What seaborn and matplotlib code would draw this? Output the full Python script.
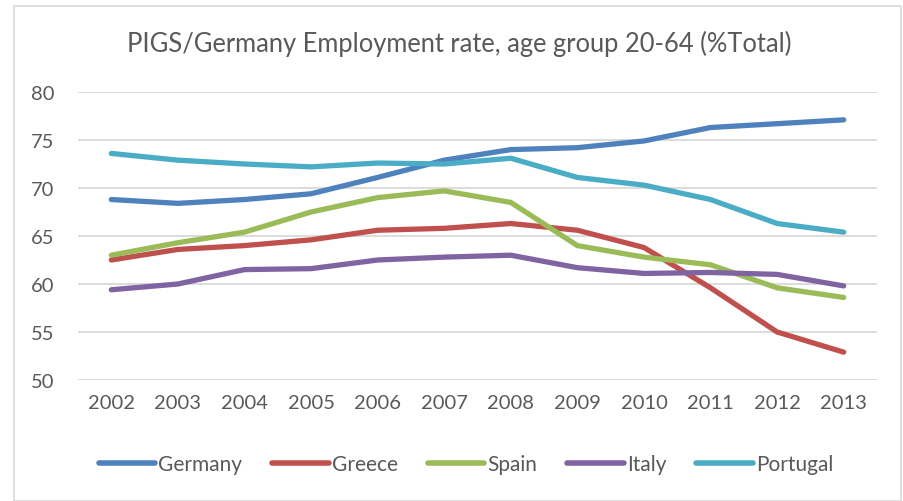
import matplotlib
matplotlib.use("Agg")
import matplotlib.pyplot as plt
import seaborn as sns
import pandas as pd
from matplotlib.patches import Rectangle

years = [2002, 2003, 2004, 2005, 2006, 2007, 2008, 2009, 2010, 2011, 2012, 2013]
germany = [68.8, 68.4, 68.8, 69.4, 71.1, 72.9, 74.0, 74.2, 74.9, 76.3, 76.7, 77.1]
greece = [62.5, 63.6, 64.0, 64.6, 65.6, 65.8, 66.3, 65.6, 63.8, 59.6, 55.0, 52.9]
spain = [63.0, 64.3, 65.4, 67.5, 69.0, 69.7, 68.5, 64.0, 62.8, 62.0, 59.6, 58.6]
italy = [59.4, 60.0, 61.5, 61.6, 62.5, 62.8, 63.0, 61.7, 61.1, 61.2, 61.0, 59.8]
portugal = [73.6, 72.9, 72.5, 72.2, 72.6, 72.5, 73.1, 71.1, 70.3, 68.8, 66.3, 65.4]

series = {"Germany": germany, "Greece": greece, "Spain": spain,
          "Italy": italy, "Portugal": portugal}
colors = {"Germany": "#4F81BD", "Greece": "#C0504D", "Spain": "#9BBB59",
          "Italy": "#8064A2", "Portugal": "#4BACC6"}

rows = []
for name, vals in series.items():
    for y, v in zip(years, vals):
        rows.append({"Year": y, "Value": v, "Country": name})
df = pd.DataFrame(rows)

sns.set_theme(style="white")
plt.rcParams['font.family'] = ['Lato', 'DejaVu Sans']
text_color = "#595959"

fig = plt.figure(figsize=(9.04, 5.02), dpi=100)
ax = fig.add_axes([78/904, 1-381/502, (877-78)/904, (381-93)/502])

sns.lineplot(data=df, x="Year", y="Value", hue="Country", palette=colors,
             linewidth=3.8, ax=ax, legend=True, solid_capstyle="round")

ax.set_xlim(2001.5, 2013.5)
ax.set_ylim(50, 80)
ax.set_yticks([50, 55, 60, 65, 70, 75, 80])
ax.set_xticks(years)
ax.set_xticklabels([str(y) for y in years])
ax.yaxis.grid(True, color="#D9D9D9", linewidth=1.3)
ax.set_axisbelow(True)
for s in ["top", "right", "left", "bottom"]:
    ax.spines[s].set_visible(False)
ax.tick_params(axis="both", length=0, labelsize=14.5, colors=text_color)
ax.tick_params(axis="y", pad=17)
ax.tick_params(axis="x", pad=10)
ax.set_xlabel("")
ax.set_ylabel("")

handles, labels = ax.get_legend_handles_labels()
for h in handles:
    h.set_linewidth(4)
    h.set_solid_capstyle("round")
leg = ax.legend(handles, labels, loc="center", bbox_to_anchor=(466/904, 1-465/502),
                bbox_transform=fig.transFigure, ncol=5, frameon=False,
                fontsize=15, handlelength=2.7, handletextpad=0.15,
                columnspacing=1.45)
for t in leg.get_texts():
    t.set_color(text_color)

fig.text(459/904, 1-44/502, "PIGS/Germany Employment rate, age group 20-64 (%Total)",
         ha="center", va="center", fontsize=18.4, color=text_color)

fig.patches.append(Rectangle((14/904, 0), (901-14)/904, 1-7/502,
                             transform=fig.transFigure, fill=False,
                             edgecolor="#D9D9D9", linewidth=1.2))

fig.savefig("out.png", dpi=100)
